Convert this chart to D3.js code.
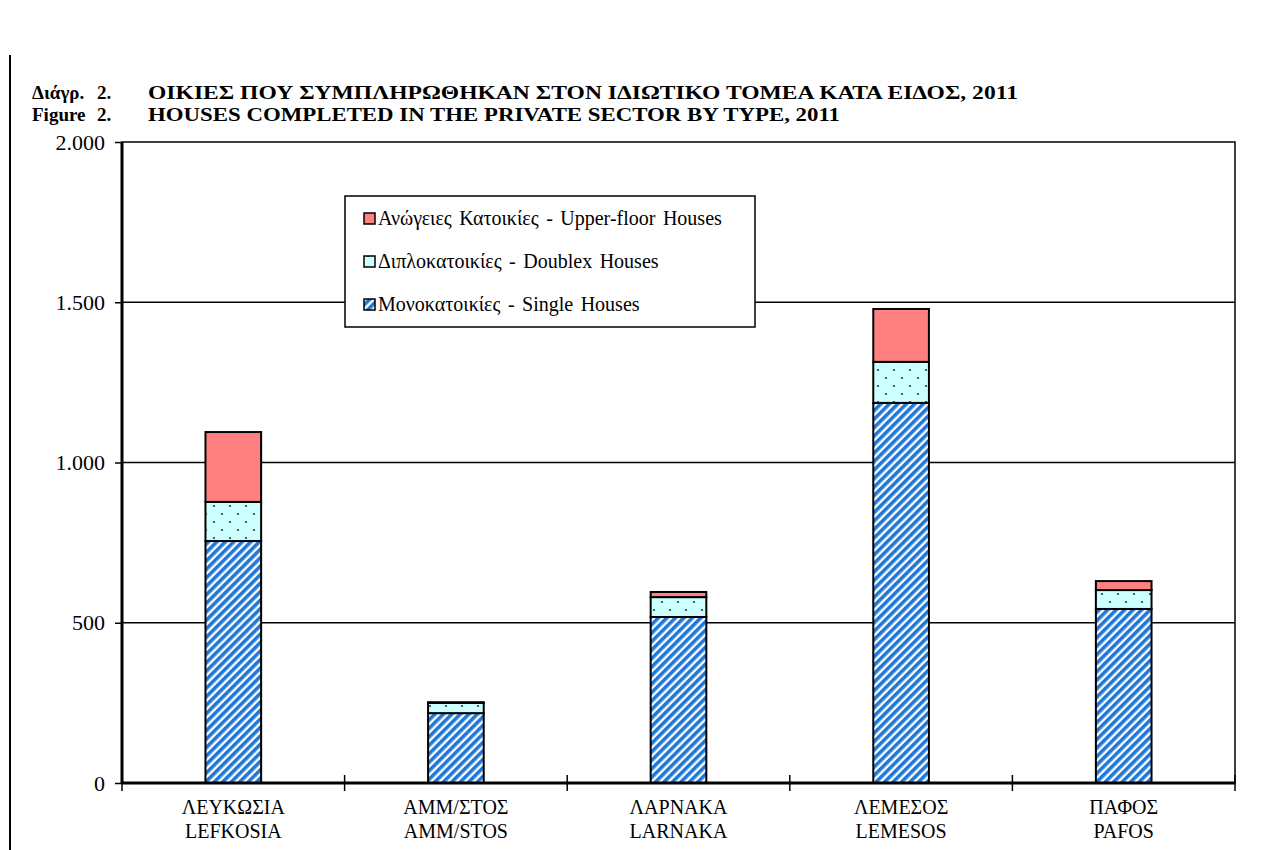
<!DOCTYPE html>
<html>
<head>
<meta charset="utf-8">
<script src="https://cdn.jsdelivr.net/npm/d3@7"></script>
<style>
  body { margin: 0; background: #fff; }
  svg text { font-family: "Liberation Serif", "Times New Roman", serif; }
</style>
</head>
<body>
<svg width="1272" height="850"></svg>
<script>
const districtsGr = ["ΛΕΥΚΩΣΙΑ", "ΑΜΜ/ΣΤΟΣ", "ΛΑΡΝΑΚΑ", "ΛΕΜΕΣΟΣ", "ΠΑΦΟΣ"];
const districtsEn = ["LEFKOSIA", "AMM/STOS", "LARNAKA", "LEMESOS", "PAFOS"];
const singleHouses = [755, 218, 518, 1186, 543];
const doublexHouses = [122, 32, 62, 128, 59];
const upperHouses = [218, 2, 16, 165, 28];
const yTicks = [0, 500, 1000, 1500, 2000];
const yTickLabels = ["0", "500", "1.000", "1.500", "2.000"];
const seriesNames = [
  "Ανώγειες Κατοικίες - Upper-floor  Houses",
  "Διπλοκατοικίες - Doublex  Houses",
  "Μονοκατοικίες - Single  Houses"
];

const serif = "'Liberation Serif', 'Times New Roman', serif";

const svg = d3.select("svg"),
      margin = {top: 142, right: 37, bottom: 67, left: 122},
      width = +svg.attr("width") - margin.left - margin.right,
      height = +svg.attr("height") - margin.top - margin.bottom;

svg.attr("font-family", serif);

// patterns
const defs = svg.append("defs");
const stripes = defs.append("pattern")
    .attr("id", "stripes")
    .attr("patternUnits", "userSpaceOnUse")
    .attr("width", 6).attr("height", 6)
    .attr("patternTransform", "rotate(45)");
stripes.append("rect").attr("width", 6).attr("height", 6).attr("fill", "#ffffff");
stripes.append("rect").attr("width", 3.6).attr("height", 6).attr("fill", "#1f78d8");

const dots = defs.append("pattern")
    .attr("id", "dots")
    .attr("patternUnits", "userSpaceOnUse")
    .attr("width", 16).attr("height", 16);
dots.append("rect").attr("width", 16).attr("height", 16).attr("fill", "#ccffff");
dots.append("circle").attr("cx", 4).attr("cy", 4).attr("r", 1.1).attr("fill", "#333");
dots.append("circle").attr("cx", 12).attr("cy", 12).attr("r", 1.1).attr("fill", "#333");

const fills = {single: "url(#stripes)", doublex: "url(#dots)", upper: "#ff8080"};

// outer frame line and title
svg.append("line")
    .attr("x1", 10).attr("x2", 10).attr("y1", 55).attr("y2", 850)
    .attr("stroke", "#000").attr("stroke-width", 2);

const titles = [
  ["Διάγρ.", "ΟΙΚΙΕΣ ΠΟΥ ΣΥΜΠΛΗΡΩΘΗΚΑΝ ΣΤΟΝ ΙΔΙΩΤΙΚΟ ΤΟΜΕΑ ΚΑΤΑ ΕΙΔΟΣ, 2011", 99, 870],
  ["Figure", "HOUSES COMPLETED IN THE PRIVATE SECTOR BY TYPE, 2011", 121, 692]
];
titles.forEach(t => {
  const tg = svg.append("g").attr("font-weight", "bold").attr("font-size", 19);
  tg.append("text").attr("x", 32).attr("y", t[2]).text(t[0]);
  tg.append("text").attr("x", 97).attr("y", t[2]).text("2.");
  tg.append("text").attr("x", 148).attr("y", t[2])
    .attr("textLength", t[3]).attr("lengthAdjust", "spacingAndGlyphs")
    .text(t[1]);
});

const g = svg.append("g")
    .attr("transform", `translate(${margin.left},${margin.top})`);

const x = d3.scaleBand()
    .domain(districtsEn)
    .range([0, width])
    .paddingInner(0.75)
    .paddingOuter(0.375);

const xCat = d3.scaleBand().domain(districtsEn).range([0, width]);

const y = d3.scaleLinear()
    .domain([0, 2000])
    .range([height, 0]);

// gridlines
g.selectAll(".grid")
  .data(yTicks.filter(d => d > 0 && d < 2000))
  .enter().append("line")
    .attr("x1", 0).attr("x2", width)
    .attr("y1", d => y(d)).attr("y2", d => y(d))
    .attr("stroke", "#000").attr("stroke-width", 1.5);

// plot frame
g.append("rect")
    .attr("width", width).attr("height", height)
    .attr("fill", "none").attr("stroke", "#000").attr("stroke-width", 1.5);

// stacked bars
const data = districtsEn.map((d, i) => ({
  district: d, single: singleHouses[i], doublex: doublexHouses[i], upper: upperHouses[i]
}));
const stack = d3.stack().keys(["single", "doublex", "upper"]);
const layers = stack(data);

layers.forEach(layer => {
  g.selectAll(".bar-" + layer.key)
    .data(layer)
    .enter().append("rect")
      .attr("x", d => x(d.data.district))
      .attr("y", d => y(d[1]))
      .attr("width", x.bandwidth())
      .attr("height", d => y(d[0]) - y(d[1]))
      .attr("fill", fills[layer.key])
      .attr("stroke", "#000")
      .attr("stroke-width", 2);
});

// y axis
const yAxis = g.append("g")
    .call(d3.axisLeft(y).tickValues(yTicks).tickSize(7).tickPadding(10)
      .tickFormat((d, i) => yTickLabels[i]));
yAxis.attr("font-family", serif).attr("font-size", 22);
yAxis.select(".domain").attr("stroke-width", 3).attr("d", `M0,${height}V0`);
yAxis.selectAll(".tick line").attr("stroke-width", 1.5);
yAxis.selectAll(".tick text").attr("fill", "#000");

// x axis
const xAxis = g.append("g")
    .attr("transform", `translate(0,${height})`);
xAxis.append("line")
    .attr("x1", 0).attr("x2", width)
    .attr("stroke", "#000").attr("stroke-width", 3);
xAxis.selectAll(".xtick")
  .data(d3.range(districtsEn.length + 1))
  .enter().append("line")
    .attr("x1", i => i * xCat.step()).attr("x2", i => i * xCat.step())
    .attr("y1", -8).attr("y2", 8)
    .attr("stroke", "#000").attr("stroke-width", 1.5);

const xLabels = xAxis.selectAll(".xlabel")
  .data(districtsEn)
  .enter().append("text")
    .attr("text-anchor", "middle")
    .attr("font-size", 20)
    .attr("transform", d => `translate(${xCat(d) + xCat.bandwidth() / 2},0)`);
xLabels.append("tspan").attr("x", 0).attr("y", 31).text((d, i) => districtsGr[i]);
xLabels.append("tspan").attr("x", 0).attr("y", 55).text(d => d);

// legend
const legend = svg.append("g").attr("transform", "translate(345,196)");
legend.append("rect")
    .attr("width", 410).attr("height", 131)
    .attr("fill", "#fff").attr("stroke", "#000").attr("stroke-width", 1.5);
const legendKeys = ["upper", "doublex", "single"];
const item = legend.selectAll(".item")
  .data(legendKeys)
  .enter().append("g")
    .attr("transform", (d, i) => `translate(19,${29 + i * 43})`);
item.append("rect")
    .attr("x", 0).attr("y", -12)
    .attr("width", 11).attr("height", 11)
    .attr("fill", d => fills[d])
    .attr("stroke", "#000").attr("stroke-width", 1.5);
item.append("text")
    .attr("x", 14).attr("y", 0)
    .attr("font-size", 20)
    .attr("word-spacing", 2.5)
    .text((d, i) => seriesNames[i]);
</script>
</body>
</html>
